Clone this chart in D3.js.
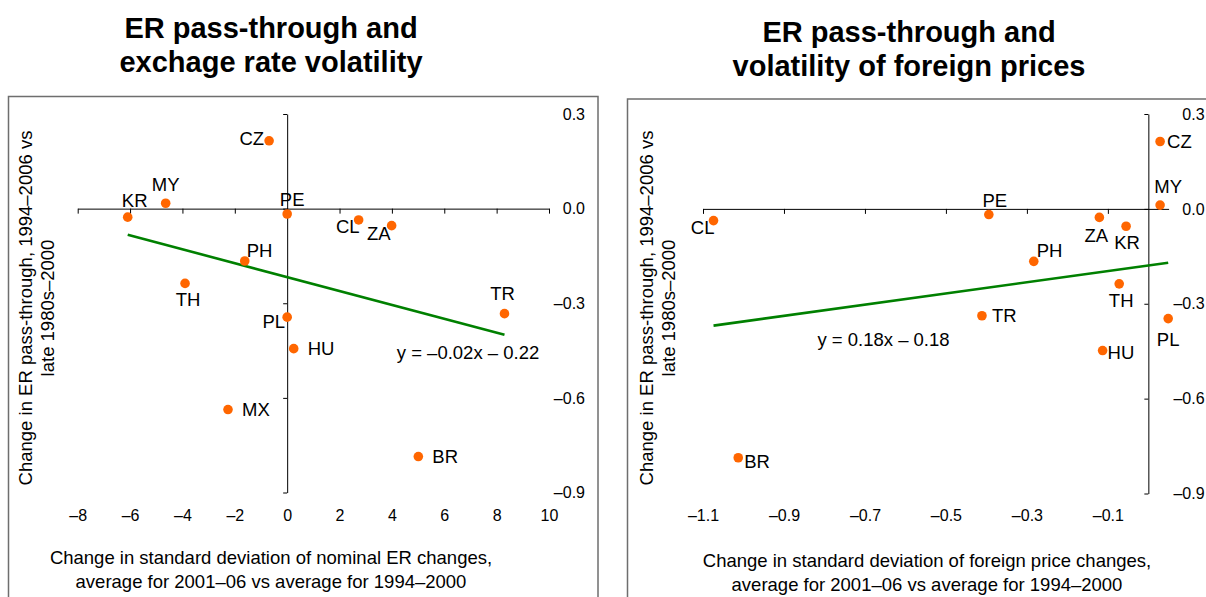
<!DOCTYPE html>
<html>
<head>
<meta charset="utf-8">
<script src="https://cdn.jsdelivr.net/npm/d3@7"></script>
<style>
  body { margin: 0; background: #fff; }
  svg { font-family: "Liberation Sans", Arial, sans-serif; }
</style>
</head>
<body>
<svg id="chart" width="1206" height="597"></svg>
<script>
// values
const countriesLeft = ['CZ', 'MY', 'KR', 'PE', 'CL', 'ZA', 'PH', 'TH', 'TR', 'PL', 'HU', 'MX', 'BR'];
const erVolChange = [-0.69, -4.64, -6.09, 0.0, 2.73, 3.99, -1.62, -3.90, 8.30, 0.0, 0.25, -2.26, 5.01];
const passThroughLeft = [0.215, 0.017, -0.027, -0.017, -0.036, -0.054, -0.166, -0.237, -0.333, -0.344, -0.444, -0.637, -0.786];

const countriesRight = ['CZ', 'MY', 'PE', 'CL', 'ZA', 'KR', 'PH', 'TH', 'TR', 'PL', 'HU', 'BR'];
const fpVolChange = [0.029, 0.029, -0.394, -1.074, -0.121, -0.055, -0.283, -0.072, -0.411, 0.049, -0.113, -1.013];
const passThroughRight = [0.213, 0.012, -0.018, -0.037, -0.027, -0.055, -0.166, -0.237, -0.338, -0.347, -0.448, -0.787];

const xTicksLeft = [-8, -6, -4, -2, 0, 2, 4, 6, 8, 10];
const xTicksRight = [-1.1, -0.9, -0.7, -0.5, -0.3, -0.1];
const yTicks = [0.3, 0.0, -0.3, -0.6, -0.9];

// fitted lines: [slope, intercept]
const trendLeft = [-0.022, -0.217];
const trendRight = [0.177, -0.179];

const titleLeft = ['ER pass-through and', 'exchage rate volatility'];
const titleRight = ['ER pass-through and', 'volatility of foreign prices'];
const yTitle = ['Change in ER pass-through, 1994\u20132006 vs', 'late 1980s\u20132000'];
const xTitleLeft = ['Change in standard deviation of nominal ER changes,', 'average for 2001\u201306 vs average for 1994\u20132000'];
const xTitleRight = ['Change in standard deviation of foreign price changes,', 'average for 2001\u201306 vs average for 1994\u20132000'];

// where each country label sits relative to its dot: [dx, dy, anchor]
const labelPlaceLeft = {
    CZ: [-5, 4, 'end'], MY: [0, -12, 'middle'], KR: [7, -10, 'middle'], PE: [5, -8, 'middle'],
    CL: [1, 13, 'end'], ZA: [-1, 14, 'end'], PH: [2, -4, 'start'], TH: [3, 23, 'middle'],
    TR: [-2, -14, 'middle'], PL: [-2, 11, 'end'], HU: [14, 6, 'start'], MX: [14, 6, 'start'],
    BR: [14, 6, 'start']
};
const labelPlaceRight = {
    CZ: [7, 6, 'start'], MY: [8, -12, 'middle'], PE: [6, -8, 'middle'], CL: [1, 13, 'end'],
    ZA: [-3, 25, 'middle'], KR: [1, 23, 'middle'], PH: [3, -4, 'start'], TH: [2, 23, 'middle'],
    TR: [10, 6, 'start'], PL: [0, 27, 'middle'], HU: [5, 8, 'start'], BR: [6, 10, 'start']
};

const DOT = '#ff6600', TREND = '#008000', FRAME = '#6e6e6e';

function fmtDash(f) {
    return function(d) { return f(d).replace('\u2212', '\u2013'); };
}

// one scatter panel with a fitted line, built like a reusable chart
function scatterPanel() {
    let opts = {};

    function my(selection) {
        selection.each(function(pts) {
            const g = d3.select(this);
            const o = opts;

            const x = d3.scaleLinear().domain(o.xDomain).range(o.xRange);
            const y = d3.scaleLinear().domain([0.3, -0.9]).range(o.yRange);

            // frame round the panel, runs off the bottom
            g.append('rect')
                .attr('x', o.frame[0]).attr('y', o.frame[1])
                .attr('width', o.frame[2]).attr('height', 700)
                .attr('fill', 'none').attr('stroke', FRAME).attr('stroke-width', 1.5);

            // title
            g.append('text')
                .attr('text-anchor', 'middle')
                .attr('font-size', 29).attr('font-weight', 'bold')
                .selectAll('tspan').data(o.title).enter().append('tspan')
                .attr('x', o.titlePos[0])
                .attr('y', function(d, i) { return o.titlePos[1] + i * 34; })
                .text(function(d) { return d; });

            // axes crossing at zero
            g.append('g')
                .attr('transform', 'translate(0,' + y(0) + ')')
                .call(d3.axisBottom(x).tickValues(o.xTicks).tickSize(5).tickSizeOuter(0).tickFormat(''));
            g.append('g')
                .attr('transform', 'translate(' + x(0) + ',0)')
                .call(d3.axisLeft(y).tickValues(yTicks).tickSize(4).tickSizeOuter(0).tickFormat(''));
            g.selectAll('.domain, .tick line').attr('stroke', '#000').attr('stroke-width', 1);

            // tick labels sit at the bottom and right of the plot
            const xLab = g.append('g')
                .attr('transform', 'translate(0,510)')
                .call(d3.axisBottom(x).tickValues(o.xTicks).tickSize(0).tickPadding(0).tickFormat(o.xFormat));
            const yLab = g.append('g')
                .attr('transform', 'translate(' + (o.xRange[1] + 36) + ',0)')
                .call(d3.axisLeft(y).tickValues(yTicks).tickSize(0).tickPadding(0).tickFormat(fmtDash(d3.format('.1f'))));
            [xLab, yLab].forEach(function(a) {
                a.select('.domain').remove();
                a.attr('font-size', 16).attr('font-family', null);
                a.selectAll('text').attr('fill', '#000');
            });

            // fitted line over the data range
            const ext = d3.extent(pts, function(d) { return d.x; });
            g.append('path')
                .datum(ext)
                .attr('d', d3.line()
                    .x(function(d) { return x(d); })
                    .y(function(d) { return y(o.trend[0] * d + o.trend[1]); }))
                .attr('stroke', TREND).attr('stroke-width', 2.6).attr('fill', 'none');

            g.append('text')
                .attr('x', o.eqPos[0]).attr('y', o.eqPos[1])
                .attr('text-anchor', 'middle').attr('font-size', 18.5)
                .text(o.eqText);

            // dots and country labels
            g.selectAll('circle').data(pts).enter().append('circle')
                .attr('cx', function(d) { return x(d.x); })
                .attr('cy', function(d) { return y(d.y); })
                .attr('r', 4.8)
                .attr('fill', DOT);

            g.selectAll('text.lab').data(pts).enter().append('text')
                .attr('class', 'lab')
                .attr('x', function(d) { return x(d.x) + o.labelPlace[d.c][0]; })
                .attr('y', function(d) { return y(d.y) + o.labelPlace[d.c][1]; })
                .attr('text-anchor', function(d) { return o.labelPlace[d.c][2]; })
                .attr('font-size', 18.5)
                .text(function(d) { return d.c; });

            // axis titles
            g.append('text')
                .attr('text-anchor', 'middle').attr('font-size', 18.5)
                .selectAll('tspan').data(o.xTitle).enter().append('tspan')
                .attr('x', o.xTitlePos[0])
                .attr('y', function(d, i) { return o.xTitlePos[1] + i * 24; })
                .text(function(d) { return d; });

            g.selectAll('text.ytitle').data(yTitle).enter().append('text')
                .attr('class', 'ytitle')
                .attr('text-anchor', 'middle').attr('font-size', 18.5)
                .attr('transform', function(d, i) {
                    return 'translate(' + (o.yTitlePos[0] + i * 22) + ',' + o.yTitlePos[1] + ') rotate(-90)';
                })
                .text(function(d) { return d; });
        });
    }

    // setters/getters for each option
    ['xDomain', 'xRange', 'yRange', 'xTicks', 'xFormat', 'trend', 'eqText', 'eqPos', 'labelPlace',
     'title', 'titlePos', 'xTitle', 'xTitlePos', 'yTitlePos', 'frame'].forEach(function(k) {
        my[k] = function(value) {
            if (!arguments.length) return opts[k];
            opts[k] = value;
            return my;
        };
    });

    return my;
}

const svg = d3.select('#chart');

const leftPts = countriesLeft.map(function(c, i) { return {c: c, x: erVolChange[i], y: passThroughLeft[i]}; });
const rightPts = countriesRight.map(function(c, i) { return {c: c, x: fpVolChange[i], y: passThroughRight[i]}; });

const left = scatterPanel()
    .xDomain([-8, 10]).xRange([77.7, 549]).yRange([114, 492.5])
    .xTicks(xTicksLeft).xFormat(fmtDash(d3.format('d')))
    .trend(trendLeft).eqText('y = \u20130.02x \u2013 0.22').eqPos([468, 359])
    .labelPlace(labelPlaceLeft)
    .title(titleLeft).titlePos([271, 38])
    .xTitle(xTitleLeft).xTitlePos([271, 564])
    .yTitlePos([32, 308])
    .frame([8.5, 96.5, 589.5]);

const right = scatterPanel()
    .xDomain([-1.1, 0.05]).xRange([703, 1168.6]).yRange([114, 493.5])
    .xTicks(xTicksRight).xFormat(fmtDash(d3.format('.1f')))
    .trend(trendRight).eqText('y = 0.18x \u2013 0.18').eqPos([883.5, 346])
    .labelPlace(labelPlaceRight)
    .title(titleRight).titlePos([909, 42])
    .xTitle(xTitleRight).xTitlePos([927, 567])
    .yTitlePos([653, 308])
    .frame([627.5, 99, 700]);

svg.append('g').datum(leftPts).call(left);
svg.append('g').datum(rightPts).call(right);
</script>
</body>
</html>
